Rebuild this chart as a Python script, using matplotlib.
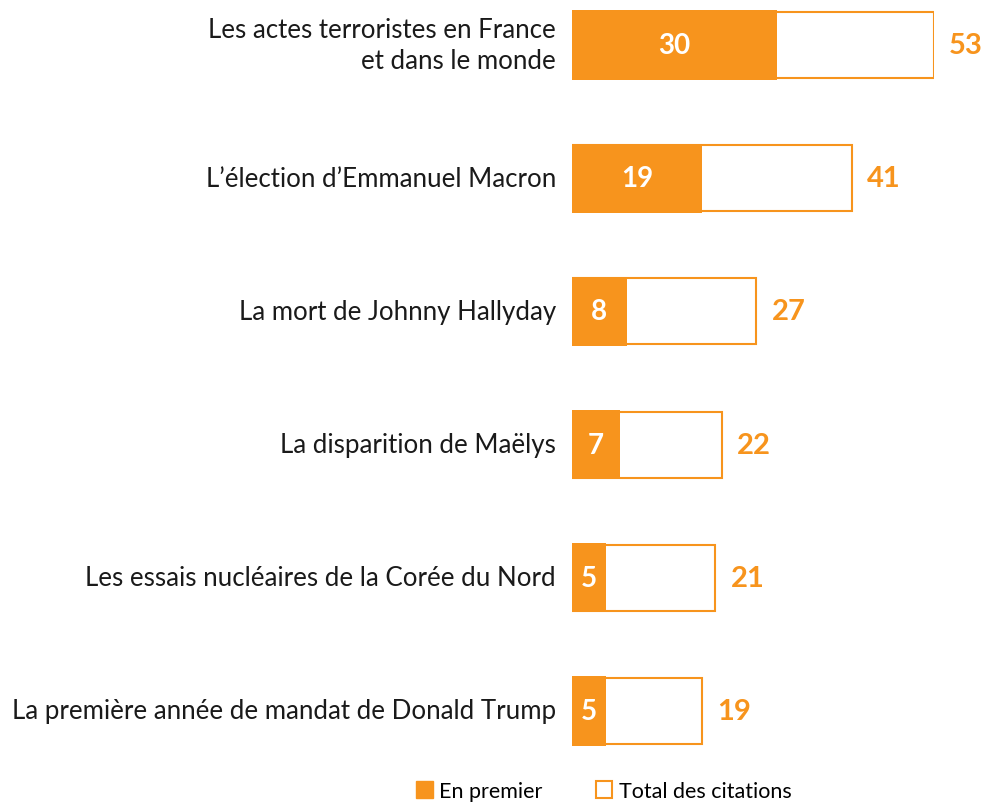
import matplotlib
matplotlib.use("Agg")
import matplotlib.pyplot as plt
from matplotlib.patches import Patch
import matplotlib.transforms as mtransforms

categories = [
    "Les actes terroristes en France\net dans le monde",
    "L\u2019élection d\u2019Emmanuel Macron",
    "La mort de Johnny Hallyday",
    "La disparition de Maëlys",
    "Les essais nucléaires de la Corée du Nord",
    "La première année de mandat de Donald Trump",
]
en_premier = [30, 19, 8, 7, 5, 5]
total = [53, 41, 27, 22, 21, 19]

ORANGE = "#F7941D"
plt.rcParams['font.family'] = ['Lato', 'DejaVu Sans']

W, H = 984, 804
fig = plt.figure(figsize=(W / 100, H / 100), dpi=100)
top_px, bot_px = 46 - 0.3 * 133.2, 712 + 0.3 * 133.2
ax = fig.add_axes([572 / W, (H - bot_px) / H, (934 - 572) / W, (bot_px - top_px) / H])
ax.set_xlim(0, 53)
ax.set_ylim(5.3, -0.3)
ax.axis('off')

ys = list(range(len(categories)))
ax.barh(ys, total, height=0.495, left=0, color='white', edgecolor=ORANGE, linewidth=1.5, zorder=1)
ax.barh(ys, en_premier, height=0.52, left=0, color=ORANGE, edgecolor='none', zorder=2)

off_right = mtransforms.offset_copy(ax.transData, fig=fig, x=15, y=0, units='dots')
off_left = mtransforms.offset_copy(ax.transData, fig=fig, x=-16, y=0, units='dots')
for y, cat, p, t in zip(ys, categories, en_premier, total):
    ax.text(0, y, cat, transform=off_left, ha='right', va='center', multialignment='right',
            fontsize=18.6, color='#1a1a1a', linespacing=1.3)
    ax.text(p / 2, y, str(p), ha='center', va='center', fontsize=20, fontweight='bold', color='white', zorder=3)
    ax.text(t, y, str(t), transform=off_right, ha='left', va='center', fontsize=21,
            fontweight='bold', color=ORANGE)

handles = [Patch(facecolor=ORANGE, edgecolor=ORANGE, label='En premier'),
           Patch(facecolor='white', edgecolor=ORANGE, linewidth=1.5, label='Total des citations')]
fig.legend(handles=handles, loc='center', bbox_to_anchor=(604 / W, 1 - 792 / H), ncol=2, frameon=False,
           fontsize=15.5, handlelength=0.75, handleheight=0.85, handletextpad=0.3, columnspacing=2.5,
           borderaxespad=0, borderpad=0)

fig.savefig("out.png", dpi=100)
